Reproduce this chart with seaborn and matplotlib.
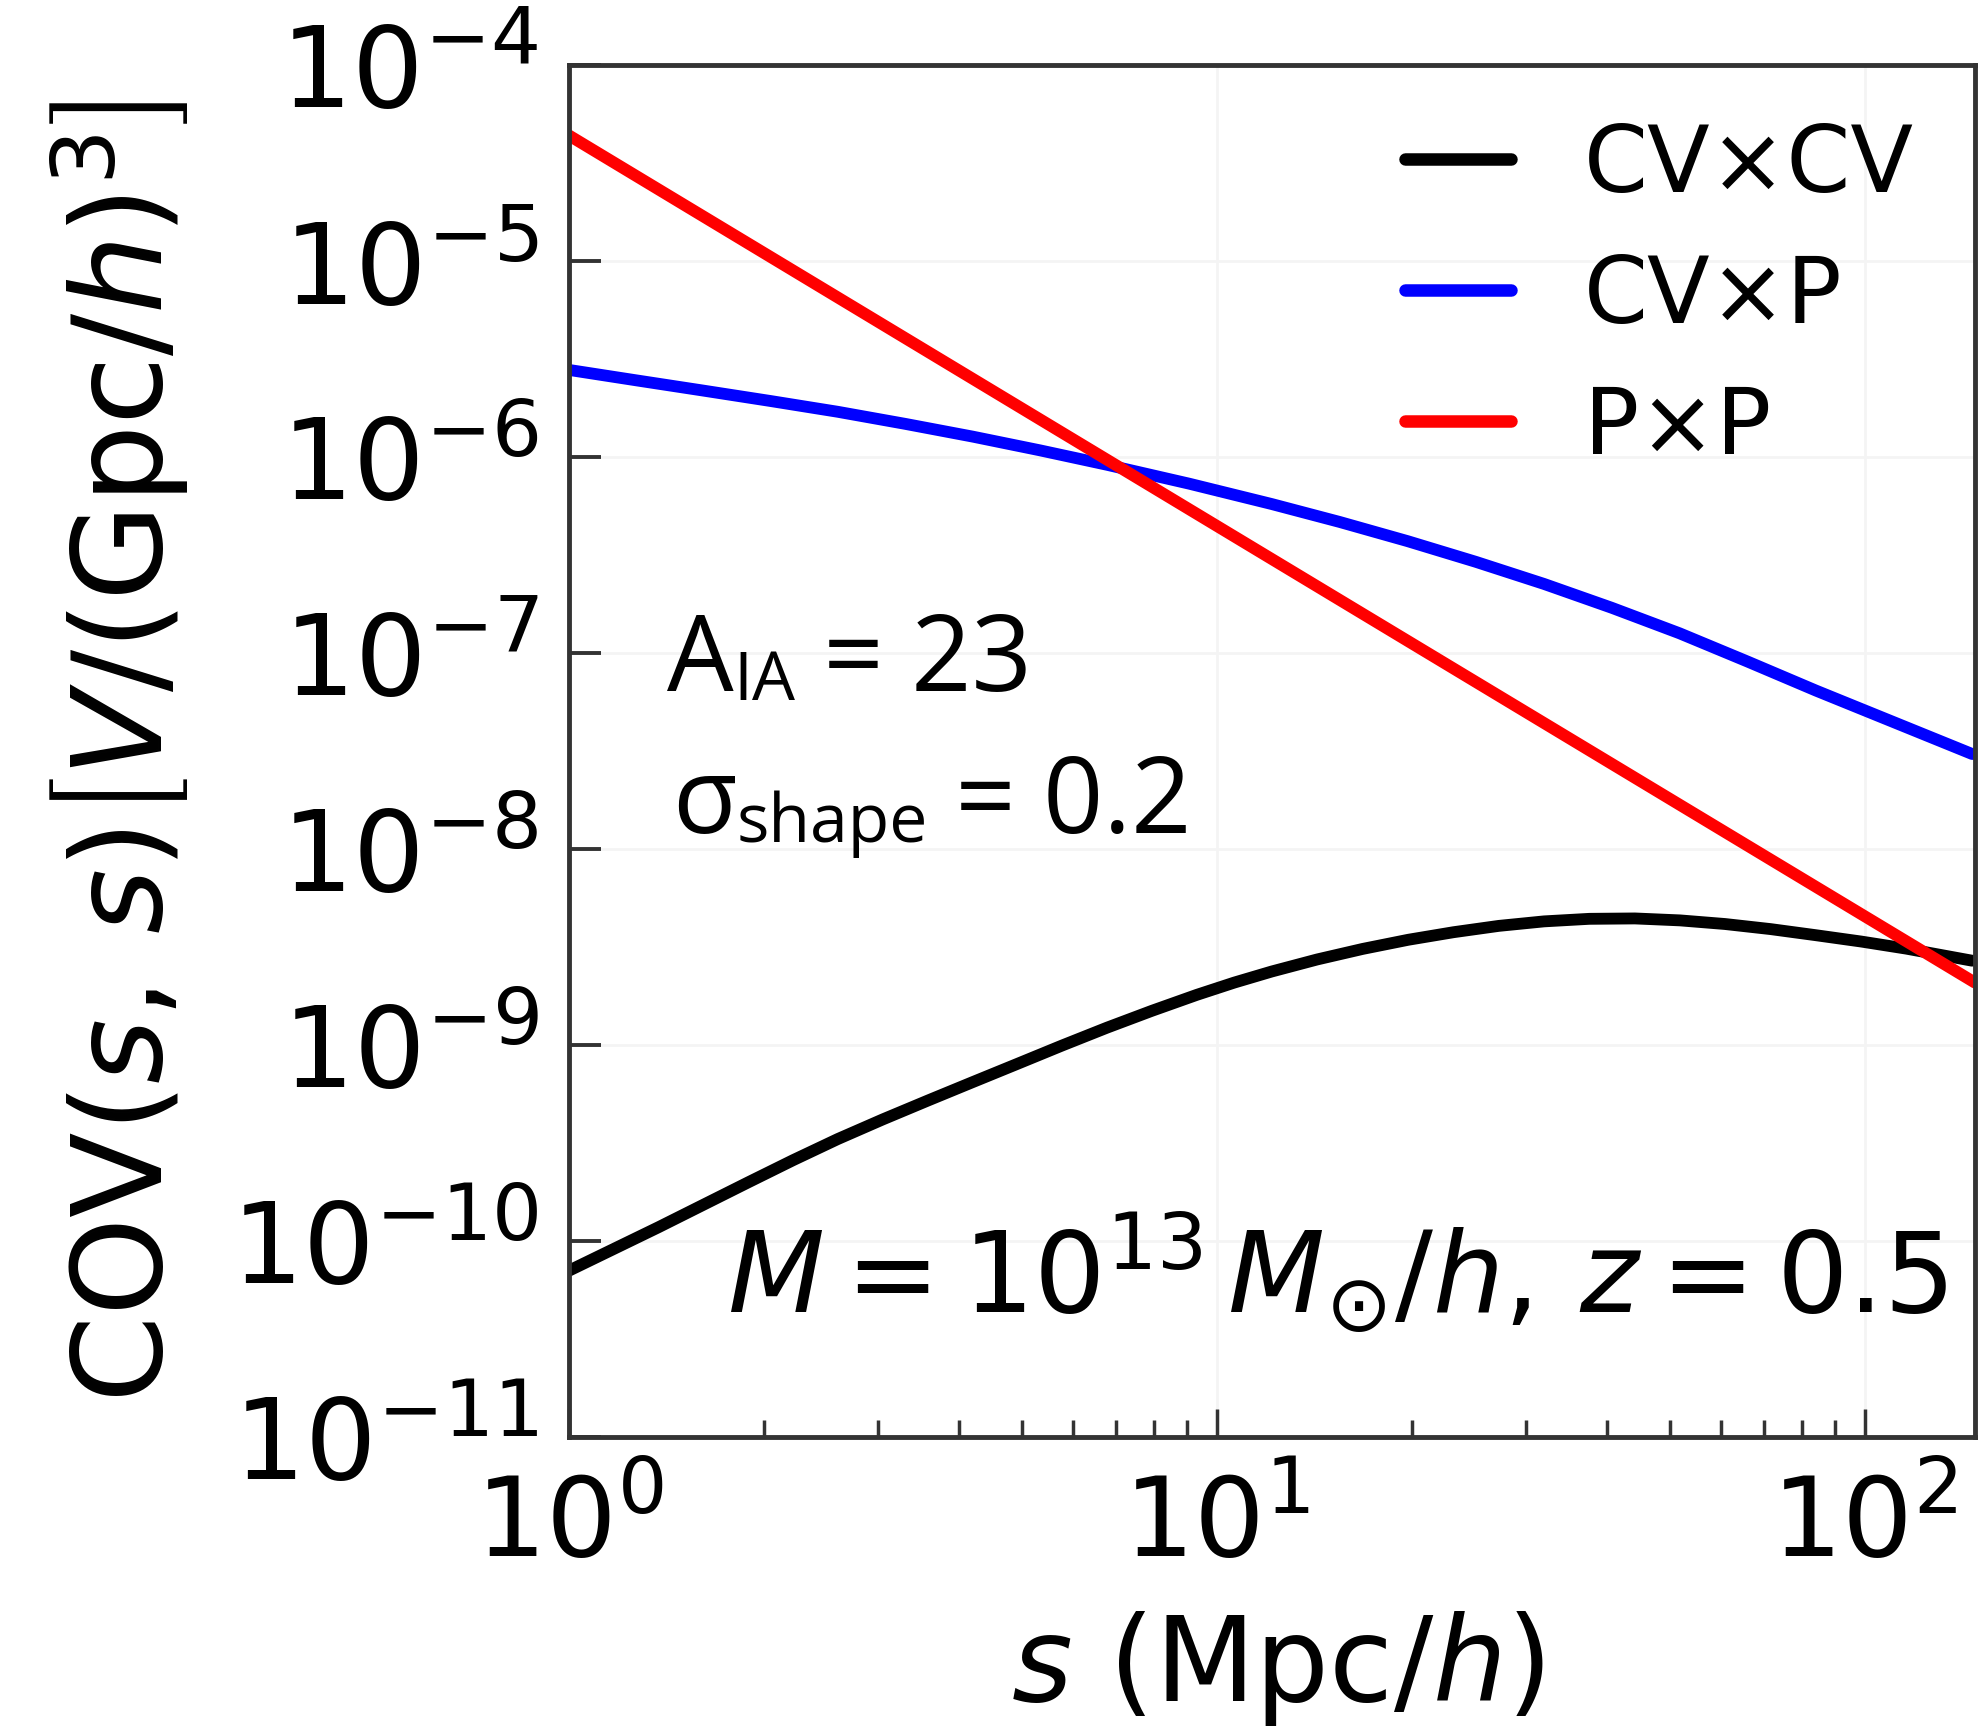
import numpy as np
import pandas as pd
import matplotlib
matplotlib.use("Agg")
import matplotlib.pyplot as plt
from matplotlib.ticker import (LogLocator, NullLocator, FixedLocator,
                               LogFormatterSciNotation)
import seaborn as sns

# Diagonal of the covariance, COV(s, s), for three contributions
s_cvcv = [1.0, 1.375, 1.891, 2.218, 2.60, 3.051, 3.58, 4.198, 4.92, 5.77,
          6.77, 7.94, 9.31, 10.64, 12.16, 14.29, 16.8, 19.75, 23.2, 27.25,
          32.0, 37.6, 44.2, 51.9, 60.9, 71.6, 84.1, 98.8, 116.0, 146.6]
cov_cvcv = [7.05e-11, 1.175e-10, 1.99e-10, 2.582e-10, 3.31e-10, 4.169e-10,
            5.20e-10, 6.457e-10, 8.0e-10, 9.93e-10, 1.225e-9, 1.493e-9,
            1.80e-9, 2.08e-9, 2.37e-9, 2.73e-9, 3.09e-9, 3.44e-9, 3.76e-9,
            4.05e-9, 4.27e-9, 4.40e-9, 4.42e-9, 4.32e-9, 4.14e-9, 3.90e-9,
            3.63e-9, 3.37e-9, 3.10e-9, 2.69e-9]

s_cvp = [1.0, 1.270, 1.613, 2.048, 2.60, 3.305, 4.20, 5.333, 6.77, 9.075,
         12.16, 15.48, 19.7, 25.11, 32.0, 40.71, 51.8, 66.02, 84.1, 146.6]
cov_cvp = [2.78e-6, 2.46e-6, 2.18e-6, 1.929e-6, 1.70e-6, 1.475e-6, 1.27e-6,
           1.081e-6, 9.12e-7, 7.30e-7, 5.75e-7, 4.659e-7, 3.72e-7, 2.917e-7,
           2.25e-7, 1.70e-7, 1.26e-7, 9.03e-8, 6.43e-8, 3.05e-8]

s_pp = [1.0, 10.0, 148.0]
cov_pp = [4.37e-5, 4.45e-7, 2.08e-9]

labels = ["CV×CV", "CV×P", "P×P"]
colors = ["#000000", "#0000ff", "#ff0000"]

x_ticks = [1, 10, 100]
y_ticks = [1e-11, 1e-10, 1e-9, 1e-8, 1e-7, 1e-6, 1e-5, 1e-4]

sns.set_theme(style="white")
plt.rcParams["font.family"] = ["DejaVu Sans"]
plt.rcParams["mathtext.fontset"] = "dejavusans"
plt.rcParams["text.color"] = "black"
plt.rcParams["axes.labelcolor"] = "black"

fig = plt.figure(figsize=(19.83, 17.31), dpi=100)
ax = fig.add_axes([0.2869, 0.1693, 0.7090, 0.7926])

series = [(s_cvcv, cov_cvcv), (s_cvp, cov_cvp), (s_pp, cov_pp)]
for (xs, ys), lab, col in zip(series, labels, colors):
    df = pd.DataFrame({"s": xs, "cov": ys})
    sns.lineplot(data=df, x="s", y="cov", color=col, lw=8.5, label=lab,
                 ax=ax, sort=False, estimator=None)

ax.set_xscale("log")
ax.set_yscale("log")
ax.set_xlim(1, 148)
ax.set_ylim(1e-11, 1e-4)

ax.xaxis.set_major_locator(FixedLocator(x_ticks))
ax.xaxis.set_minor_locator(LogLocator(base=10, subs=np.arange(2, 10), numticks=20))
ax.yaxis.set_major_locator(FixedLocator(y_ticks))
ax.yaxis.set_minor_locator(NullLocator())
ax.xaxis.set_major_formatter(LogFormatterSciNotation())
ax.yaxis.set_major_formatter(LogFormatterSciNotation())

ax.grid(True, which="major", color="#f4f4f4", lw=2)
ax.set_axisbelow(True)

for sp in ax.spines.values():
    sp.set_linewidth(3.5)
    sp.set_color("#333333")

ax.tick_params(axis="x", which="major", direction="in", length=20, width=2.5,
               color="#333333", labelcolor="black", labelsize=80, pad=25,
               bottom=True, top=False)
ax.tick_params(axis="x", which="minor", direction="in", length=12, width=2.5,
               color="#333333", bottom=True, top=False)
ax.tick_params(axis="y", which="major", direction="in", length=23, width=2.8,
               color="#333333", labelcolor="black", labelsize=81, pad=22,
               left=True, right=False)

ax.set_xlabel(r"$s$ (Mpc/$h$)", fontsize=84)
ax.xaxis.set_label_coords(0.504, -0.168)
ax.xaxis.label.set_va("center")
ax.set_ylabel(r"COV$(s,\,s)\left[V/({\rm Gpc}/h)^3\right]$", fontsize=90)
ax.yaxis.set_label_coords(-0.319, 0.5)
ax.yaxis.label.set_va("center")

leg = ax.legend(loc="upper right", bbox_to_anchor=(0.9566, 0.960), frameon=False,
                fontsize=66, handlelength=1.15, handletextpad=0.8,
                labelspacing=0.45, borderpad=0, borderaxespad=0)
for line in leg.get_lines():
    line.set_linewidth(9)

# Parameter annotations
pfont = ["Open Sans", "DejaVu Sans"]
t_a = ax.text(0.0697, 0.5445, "A", transform=ax.transAxes, fontsize=76,
              family=pfont, ha="left", va="baseline")
t_a_sub = ax.annotate("IA", xy=(1, 0), xycoords=t_a, fontsize=49,
                      family=pfont, ha="left", va="bottom")
ax.annotate(" = 23", xy=(1, 0), xycoords=(t_a_sub, t_a), fontsize=76,
            family=pfont, ha="left", va="bottom")

t_sig = ax.text(0.0733, 0.4410, "σ", transform=ax.transAxes, fontsize=76,
                family=pfont, ha="left", va="baseline")
t_sig_sub = ax.annotate("shape", xy=(1, 0), xycoords=t_sig, fontsize=49,
                        family=pfont, ha="left", va="bottom")
ax.annotate(" = 0.2", xy=(1, 0), xycoords=(t_sig_sub, t_sig), fontsize=76,
            family=pfont, ha="left", va="bottom")

ax.text(0.9808, 0.0918, r"$M=10^{13}\,M_{\odot}/h,\,z=0.5$", transform=ax.transAxes,
        fontsize=81, ha="right", va="baseline")

fig.savefig("out.png", dpi=100)
